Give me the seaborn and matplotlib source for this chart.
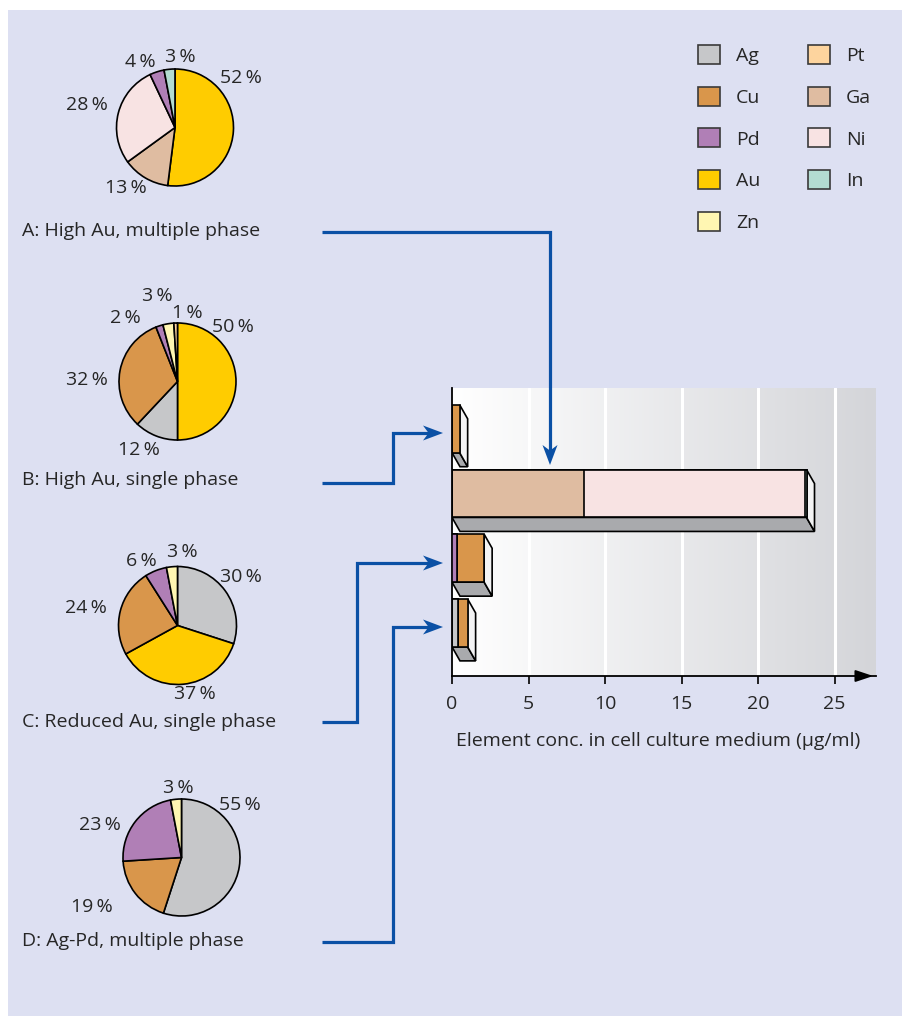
import numpy as np
import pandas as pd
import matplotlib
matplotlib.use('Agg')  # no display
import matplotlib.pyplot as plt
from matplotlib.patches import Patch, Polygon, Rectangle
from matplotlib.colors import LinearSegmentedColormap
import seaborn as sns

sns.set_theme(style='white')
plt.rcParams['font.family'] = ['Open Sans', 'DejaVu Sans']

W, H = 903, 1016
BLUE = '#0a50a5'
LAVENDER = '#dde0f2'
FS = 14

# element colours (legend order)
elements = ['Ag', 'Cu', 'Pd', 'Au', 'Zn', 'Pt', 'Ga', 'Ni', 'In']
element_colors = ['#c6c7c9', '#d9964b', '#b07fb6', '#ffcc00', '#fff6b2',
                  '#fdd49e', '#dfbca1', '#f8e3e3', '#b3dcd1']
color_of = dict(zip(elements, element_colors))

# alloy composition (%), wedges clockwise from 12 o'clock
pie_titles = ['A: High Au, multiple phase', 'B: High Au, single phase',
              'C: Reduced Au, single phase', 'D: Ag-Pd, multiple phase']
pie_a_elements = ['Au', 'Ga', 'Ni', 'Pd', 'In']
pie_a_values = [52, 13, 28, 4, 3]
pie_b_elements = ['Au', 'Ag', 'Cu', 'Pd', 'Zn', 'Pt']
pie_b_values = [50, 12, 32, 2, 3, 1]
pie_c_elements = ['Ag', 'Au', 'Cu', 'Pd', 'Zn']
pie_c_values = [30, 37, 24, 6, 3]
pie_d_elements = ['Ag', 'Cu', 'Pd', 'Zn']
pie_d_values = [55, 19, 23, 3]

# released element conc. (ug/ml), bars from top to bottom
bar_alloys = ['B', 'A', 'C', 'D']
bar_stack = ['Pd', 'Ag', 'Ga', 'Ni', 'In', 'Cu']
conc_pd = [0, 0, 0.3, 0]
conc_ag = [0, 0, 0, 0.41]
conc_ga = [0, 8.63, 0, 0]
conc_ni = [0, 14.41, 0, 0]
conc_in = [0, 0.12, 0, 0]
conc_cu = [0.5, 0, 1.8, 0.61]
x_ticks = [0, 5, 10, 15, 20, 25]


def fig_rect(x0, y0, x1, y1):
    # pixel box (top-left origin) -> figure fraction
    return [x0 / W, 1 - y1 / H, (x1 - x0) / W, (y1 - y0) / H]


fig = plt.figure(figsize=(W / 100, H / 100), dpi=100)
fig.patch.set_facecolor('white')

bg = fig.add_axes([0, 0, 1, 1], zorder=0)
bg.set_xlim(0, W)
bg.set_ylim(H, 0)
bg.axis('off')
bg.add_patch(Rectangle((8, 10), W - 8, H - 10, color=LAVENDER, lw=0))

# ---- pies ----
pie_geom = [(175, 127.5, 58.5), (177.5, 381.5, 58.5), (177.5, 625.5, 59), (181.5, 857.5, 58.5)]
pie_sets = [(pie_a_elements, pie_a_values), (pie_b_elements, pie_b_values),
            (pie_c_elements, pie_c_values), (pie_d_elements, pie_d_values)]
for (cx, cy, r), (els, vals) in zip(pie_geom, pie_sets):
    s = r * 1.05
    pa = fig.add_axes(fig_rect(cx - s, cy - s, cx + s, cy + s), zorder=1)
    pa.pie(vals, colors=[color_of[e] for e in els], startangle=90, counterclock=False,
           wedgeprops=dict(edgecolor='black', linewidth=1.2), radius=1)
    pa.set_xlim(-1.05, 1.05)
    pa.set_ylim(-1.05, 1.05)
    pa.axis('off')

# ---- bar chart ----
ax_box = (452, 388, 876, 676)
ax = fig.add_axes(fig_rect(*ax_box), zorder=1)
xmax = 27.7
ymin, ymax = -0.63, 3.82
bar_w = 0.74

grad = LinearSegmentedColormap.from_list('grad', ['#ffffff', '#d4d5d9'])
ax.imshow(np.linspace(0, 1, 256)[None, :], extent=(0, xmax, ymax, ymin),
          aspect='auto', cmap=grad, zorder=0)
for t in x_ticks[1:]:
    ax.axvline(t, color='white', lw=2.2, zorder=1)

df = pd.DataFrame({'Pd': conc_pd, 'Ag': conc_ag, 'Ga': conc_ga,
                   'Ni': conc_ni, 'In': conc_in, 'Cu': conc_cu})
cum = df[bar_stack].cumsum(axis=1)
cum['alloy'] = bar_alloys
totals = cum[bar_stack[-1]].values

# 3-D extrusion behind each bar
px_x = (ax_box[2] - ax_box[0]) / xmax
px_y = (ax_box[3] - ax_box[1]) / (ymax - ymin)
ddx, ddy = 8 / px_x, 14 / px_y
h = bar_w / 2
for i, t in enumerate(totals):
    ax.fill([0, t, t + ddx, ddx], [i + h, i + h, i + h + ddy, i + h + ddy],
            facecolor='#a9aaad', edgecolor='black', lw=1.2, zorder=2)
    ax.fill([t, t + ddx, t + ddx, t], [i - h, i - h + ddy, i + h + ddy, i + h],
            facecolor='#f3f3f4', edgecolor='black', lw=1.2, zorder=2)

for el in reversed(bar_stack):
    sns.barplot(data=cum, x=el, y='alloy', order=bar_alloys, orient='h',
                color=color_of[el], saturation=1, edgecolor='black', linewidth=1.2,
                width=bar_w, errorbar=None, ax=ax, zorder=3)

ax.set_xlim(0, xmax)
ax.set_ylim(ymax, ymin)
ax.set_yticks([])
ax.set_ylabel('')
ax.set_xticks(x_ticks)
ax.set_xlabel('Element conc. in cell culture medium (\u03bcg/ml)', fontsize=FS)
ax.xaxis.set_label_coords((658 - 452) / 424, -(741 - 676) / 288)
ax.xaxis.label.set_va('center')
ax.tick_params(axis='x', bottom=True, length=6, width=1.2, color='black', labelsize=FS, pad=8)
for side in ['top', 'right']:
    ax.spines[side].set_visible(False)
for side in ['left', 'bottom']:
    ax.spines[side].set_color('black')
    ax.spines[side].set_linewidth(1.3)
ax.annotate('', xy=(1.0, 0), xycoords='axes fraction', xytext=(0.96, 0),
            arrowprops=dict(arrowstyle='-|>,head_length=0.9,head_width=0.3',
                            color='black', lw=1.3), annotation_clip=False)

# ---- legend ----
handles = [Patch(facecolor=c, edgecolor='#3a3a3a', linewidth=1.2, label=e)
           for e, c in zip(elements, element_colors)]
fig.legend(handles=handles, ncol=2, loc='upper left', bbox_to_anchor=(698 / W, 1 - 45 / H),
           frameon=False, fontsize=FS, handlelength=1.13, handleheight=1.13,
           labelspacing=1.11, handletextpad=0.82, columnspacing=2.45,
           borderpad=0, borderaxespad=0)

# ---- overlay: labels, percentages, arrows ----
ov = fig.add_axes([0, 0, 1, 1], zorder=10)
ov.set_xlim(0, W)
ov.set_ylim(H, 0)
ov.axis('off')
ov.patch.set_alpha(0)

title_y = [231, 480, 722, 941]
for t, y in zip(pie_titles, title_y):
    ov.text(22, y, t, fontsize=FS, ha='left', va='center')

pct_pos = [
    [(241, 78), (126, 188), (87, 105), (140, 62), (180, 57)],
    [(233, 327), (139, 450), (87, 380), (125, 318), (157, 296), (187, 313)],
    [(241, 577), (195, 694), (86, 608), (141, 561), (182, 552)],
    [(240, 805), (92, 907), (100, 825), (178, 788)],
]
for (els, vals), poss in zip(pie_sets, pct_pos):
    for v, (x, y) in zip(vals, poss):
        ov.text(x, y, f'{v}\u2009%', fontsize=FS, ha='center', va='center')


def blue_arrow(xs, ys, head_len=20, head_w=15):
    xt, yt = xs[-1], ys[-1]
    vx, vy = xs[-1] - xs[-2], ys[-1] - ys[-2]
    n = np.hypot(vx, vy)
    ux, uy = vx / n, vy / n
    nx_, ny_ = -uy, ux
    notch = (xt - 0.72 * head_len * ux, yt - 0.72 * head_len * uy)
    b1 = (xt - head_len * ux + head_w / 2 * nx_, yt - head_len * uy + head_w / 2 * ny_)
    b2 = (xt - head_len * ux - head_w / 2 * nx_, yt - head_len * uy - head_w / 2 * ny_)
    ov.plot(list(xs[:-1]) + [notch[0]], list(ys[:-1]) + [notch[1]], color=BLUE, lw=2.3,
            solid_joinstyle='miter', solid_capstyle='butt')
    ov.add_patch(Polygon([(xt, yt), b1, notch, b2], closed=True, facecolor=BLUE, lw=0))


blue_arrow([322, 550, 550], [232, 232, 465])
blue_arrow([322, 393, 393, 443], [483, 483, 433, 433])
blue_arrow([322, 357, 357, 443], [722, 722, 563, 563])
blue_arrow([322, 393, 393, 443], [942, 942, 627, 627])

fig.savefig('out.png', dpi=100)
